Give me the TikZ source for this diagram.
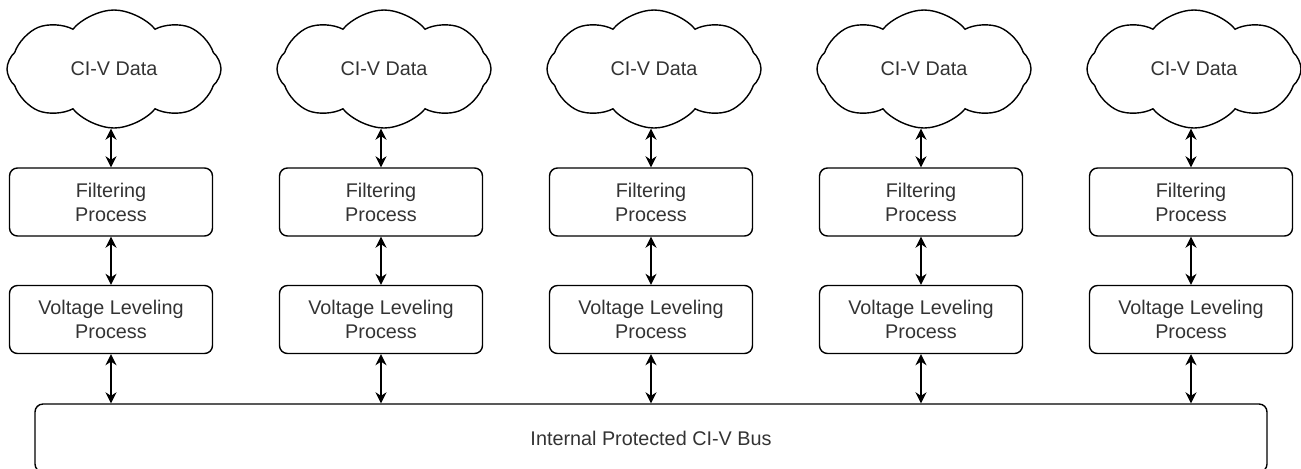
\documentclass[tikz,border=0pt]{standalone}
\usepackage{fontspec}
\setmainfont{Liberation Sans}
\usetikzlibrary{shapes.symbols,arrows.meta}

\begin{document}
\begin{tikzpicture}[x=0.5pt,y=-0.5pt,font=\fontsize{9.9}{12}\selectfont,
	>={Stealth[length=5.5pt,width=5.5pt]},
	box/.style={draw,rounded corners=4pt,minimum width=101.5pt,minimum height=34pt,
		align=center,line width=0.7pt,text=black!80},
	datacloud/.style={cloud,cloud puffs=8,cloud puff arc=100,cloud ignores aspect,draw,
		minimum width=107pt,minimum height=59pt,line width=0.7pt,text=black!80},
	link/.style={<->,line width=0.8pt}]
	\useasboundingbox (0,0) rectangle (1301,468);

	%bus
	\node[box,minimum width=616pt] (bus) at (651,438) {Internal Protected CI-V Bus};

	%columns
	\foreach \i in {0,...,4}{
		\node[datacloud] (cloud\i) at (114+270*\i,69) {CI-V Data};
		\node[box] (filt\i) at (111+270*\i,202) {Filtering\\Process};
		\node[box] (volt\i) at (111+270*\i,319.5) {Voltage Leveling\\Process};

		\draw[link] (cloud\i.south -| filt\i.north) -- (filt\i.north);
		\draw[link] (filt\i.south) -- (volt\i.north);
		\draw[link] (volt\i.south) -- (volt\i.south |- bus.north);
	}
\end{tikzpicture}
\end{document}
